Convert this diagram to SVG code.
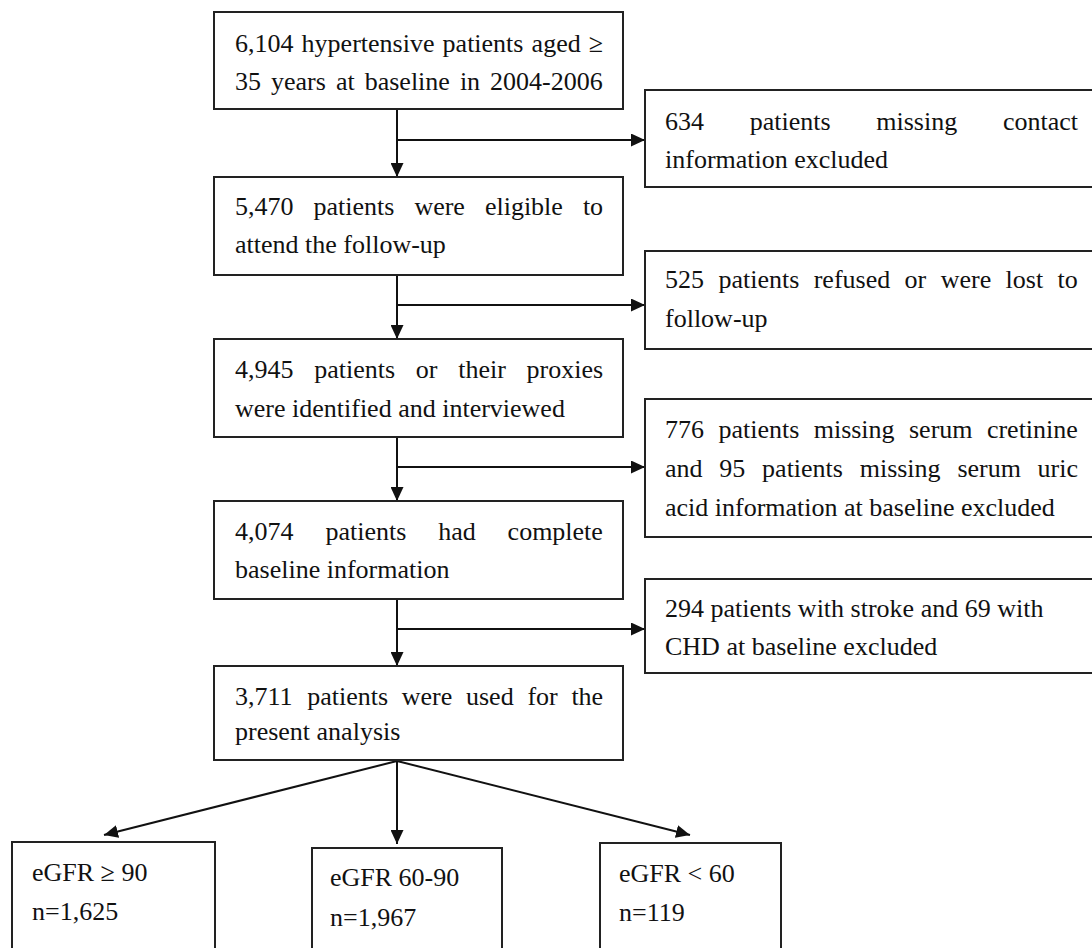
<svg xmlns="http://www.w3.org/2000/svg" width="1092" height="948" viewBox="0 0 1092 948">
<style>
.box{fill:#fff;stroke:#222;stroke-width:2}
.t{font-family:"Liberation Serif","Times New Roman",serif;font-size:26px;fill:#111}
.c{fill:none;stroke:#111;stroke-width:2}
</style>
<defs>
<marker id="ah" markerWidth="14" markerHeight="13" refX="14" refY="6.5" orient="auto" markerUnits="userSpaceOnUse">
<path d="M0,0 L14,6.5 L0,13 z" fill="#111"/>
</marker>
</defs>
<rect width="1092" height="948" fill="#fff"/>
<g id="connectors">
<line class="c" x1="397" y1="109" x2="397" y2="177" marker-end="url(#ah)"/>
<line class="c" x1="397" y1="140" x2="645" y2="140" marker-end="url(#ah)"/>
<line class="c" x1="397" y1="275" x2="397" y2="339" marker-end="url(#ah)"/>
<line class="c" x1="397" y1="305" x2="645" y2="305" marker-end="url(#ah)"/>
<line class="c" x1="397" y1="437" x2="397" y2="501" marker-end="url(#ah)"/>
<line class="c" x1="397" y1="467" x2="645" y2="467" marker-end="url(#ah)"/>
<line class="c" x1="397" y1="599" x2="397" y2="666" marker-end="url(#ah)"/>
<line class="c" x1="397" y1="629" x2="645" y2="629" marker-end="url(#ah)"/>
<line class="c" x1="397" y1="761" x2="104" y2="835" marker-end="url(#ah)"/>
<line class="c" x1="397" y1="761" x2="397" y2="844" marker-end="url(#ah)"/>
<line class="c" x1="397" y1="761" x2="690" y2="835" marker-end="url(#ah)"/>
</g>
<g id="n1">
<rect class="box" x="214" y="12" width="409" height="97"/>
<text class="t" y="52"><tspan x="235">6,104</tspan><tspan x="301.6">hypertensive</tspan><tspan x="442.6">patients</tspan><tspan x="531.6">aged</tspan><tspan x="588.8">≥</tspan></text>
<text class="t" y="90"><tspan x="235">35</tspan><tspan x="271">years</tspan><tspan x="335.9">at</tspan><tspan x="364.7">baseline</tspan><tspan x="459.9">in</tspan><tspan x="490.1">2004-2006</tspan></text>
</g>
<g id="n2">
<rect class="box" x="214" y="177" width="409" height="98"/>
<text class="t" y="215"><tspan x="235">5,470</tspan><tspan x="313.5">patients</tspan><tspan x="414.4">were</tspan><tspan x="484.9">eligible</tspan><tspan x="582.9">to</tspan></text>
<text class="t" x="235" y="253">attend the follow-up</text>
</g>
<g id="n3">
<rect class="box" x="214" y="339" width="409" height="98"/>
<text class="t" y="378"><tspan x="235">4,945</tspan><tspan x="314.2">patients</tspan><tspan x="415.8">or</tspan><tspan x="458.2">their</tspan><tspan x="526.6">proxies</tspan></text>
<text class="t" x="235" y="417">were identified and interviewed</text>
</g>
<g id="n4">
<rect class="box" x="214" y="501" width="409" height="98"/>
<text class="t" y="540"><tspan x="235">4,074</tspan><tspan x="325.4">patients</tspan><tspan x="438.2">had</tspan><tspan x="507.6">complete</tspan></text>
<text class="t" x="235" y="578">baseline information</text>
</g>
<g id="n5">
<rect class="box" x="214" y="666" width="409" height="94"/>
<text class="t" y="705"><tspan x="235">3,711</tspan><tspan x="307.2">patients</tspan><tspan x="401.8">were</tspan><tspan x="466">used</tspan><tspan x="527.4">for</tspan><tspan x="571.4">the</tspan></text>
<text class="t" x="235" y="740">present analysis</text>
</g>
<g id="r1">
<rect class="box" x="645" y="90" width="449" height="97"/>
<text class="t" y="130"><tspan x="665">634</tspan><tspan x="749.7">patients</tspan><tspan x="876.3">missing</tspan><tspan x="1002.9">contact</tspan></text>
<text class="t" x="665" y="168">information excluded</text>
</g>
<g id="r2">
<rect class="box" x="645" y="251" width="449" height="98"/>
<text class="t" y="288"><tspan x="665">525</tspan><tspan x="718.4">patients</tspan><tspan x="813.7">refused</tspan><tspan x="904.6">or</tspan><tspan x="940.7">were</tspan><tspan x="1005.6">lost</tspan><tspan x="1057.6">to</tspan></text>
<text class="t" x="665" y="327">follow-up</text>
</g>
<g id="r3">
<rect class="box" x="645" y="399" width="449" height="138"/>
<text class="t" y="438"><tspan x="665">776</tspan><tspan x="718.4">patients</tspan><tspan x="813.7">missing</tspan><tspan x="909">serum</tspan><tspan x="986.9">cretinine</tspan></text>
<text class="t" y="477"><tspan x="665">and</tspan><tspan x="719.3">95</tspan><tspan x="762.1">patients</tspan><tspan x="859.7">missing</tspan><tspan x="957.4">serum</tspan><tspan x="1037.6">uric</tspan></text>
<text class="t" x="665" y="516">acid information at baseline excluded</text>
</g>
<g id="r4">
<rect class="box" x="645" y="579" width="449" height="94"/>
<text class="t" x="665" y="617">294 patients with stroke and 69 with</text>
<text class="t" x="665" y="655">CHD at baseline excluded</text>
</g>
<g id="b1">
<rect class="box" x="12" y="842" width="203" height="130"/>
<text class="t" x="32" y="881">eGFR ≥ 90</text>
<text class="t" x="32" y="920">n=1,625</text>
</g>
<g id="b2">
<rect class="box" x="312" y="848" width="190" height="130"/>
<text class="t" x="330" y="886">eGFR 60-90</text>
<text class="t" x="330" y="926">n=1,967</text>
</g>
<g id="b3">
<rect class="box" x="600" y="843" width="181" height="130"/>
<text class="t" x="619" y="882">eGFR &lt; 60</text>
<text class="t" x="619" y="921">n=119</text>
</g>
</svg>
